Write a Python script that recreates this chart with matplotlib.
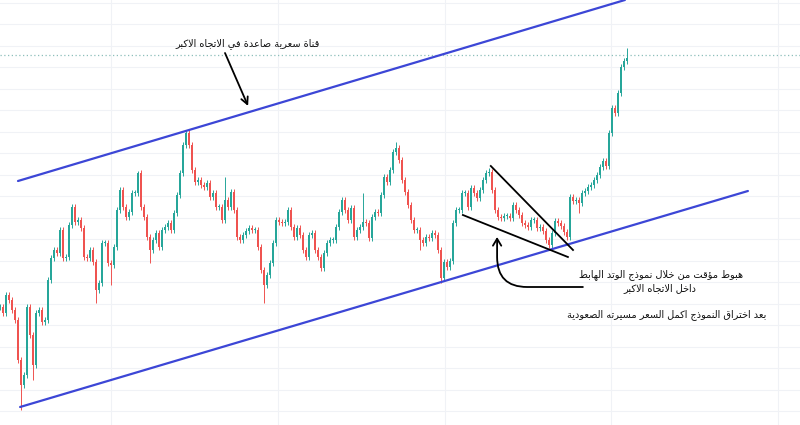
import unicodedata
import numpy as np
import matplotlib
matplotlib.use("Agg")
from matplotlib import pyplot as plt

# closing prices, one candle every 3 px of the reference
closes = [118, 112, 130, 125, 115, 105, 65, 40, 50, 118,
          90, 60, 112, 115, 103, 105, 145, 167, 175, 172,
          195, 167, 168, 200, 218, 203, 205, 197, 168, 167,
          175, 163, 135, 142, 182, 182, 162, 160, 178, 215,
          235, 218, 208, 213, 232, 232, 252, 218, 208, 188,
          175, 185, 192, 178, 195, 198, 202, 195, 212, 230,
          252, 280, 292, 280, 255, 243, 245, 240, 238, 242,
          228, 232, 218, 218, 205, 225, 218, 233, 215, 188,
          185, 190, 194, 197, 195, 195, 178, 155, 140, 150,
          162, 182, 205, 203, 202, 203, 215, 198, 188, 197,
          190, 175, 168, 190, 192, 175, 168, 157, 172, 182,
          185, 185, 198, 213, 225, 215, 205, 217, 188, 195,
          198, 203, 202, 187, 208, 213, 212, 230, 248, 243,
          255, 273, 277, 265, 245, 233, 220, 205, 195, 195,
          185, 182, 188, 187, 192, 190, 175, 147, 163, 158,
          164, 202, 215, 215, 232, 232, 218, 237, 232, 227,
          235, 245, 252, 253, 235, 215, 208, 207, 209, 209,
          207, 220, 215, 210, 202, 200, 198, 205, 205, 197,
          198, 194, 185, 180, 192, 204, 202, 199, 193, 188,
          228, 224, 225, 222, 232, 234, 238, 240, 245, 250,
          258, 264, 259, 292, 317, 312, 332, 358, 364, 367]

# long wicks
spike_lows = {7: 15, 11: 45, 32: 122, 37: 140, 50: 162, 88: 122,
              140: 175, 147: 142, 183: 177, 189: 185, 193: 212}
spike_highs = {46: 254, 62: 295, 75: 248, 121: 232, 132: 283,
               163: 257, 209: 377}

last_price = 370

channel_upper = [(6.0, 244), (208.3, 425)]
channel_lower = [(6.7, 18), (249.3, 234)]
wedge_upper = [(163.6, 259), (191.0, 175)]
wedge_lower = [(154.3, 210), (189.3, 168)]

label_channel = "قناة سعرية صاعدة في الاتجاه الاكبر"
label_wedge = "هبوط مؤقت من خلال نموذج الوتد الهابط"
label_wedge2 = "داخل الاتجاه الاكبر"
label_break = "بعد اختراق النموذج اكمل السعر مسيرته الصعودية"


def shape_arabic(text):
    # matplotlib has no arabic shaping: pick presentation forms and reverse
    def forms(ch):
        out = {}
        try:
            name = unicodedata.name(ch)
        except ValueError:
            return out
        if not name.startswith("ARABIC LETTER"):
            return out
        for key, suffix in (("iso", " ISOLATED FORM"), ("fin", " FINAL FORM"),
                            ("ini", " INITIAL FORM"), ("med", " MEDIAL FORM")):
            try:
                out[key] = unicodedata.lookup(name + suffix)
            except KeyError:
                pass
        return out

    units = []
    i = 0
    while i < len(text):
        ch = text[i]
        if ch == "ل" and i + 1 < len(text) and text[i + 1] == "ا":
            units.append(("لا", {"iso": "\ufefb", "fin": "\ufefc"}))
            i += 2
            continue
        units.append((ch, forms(ch)))
        i += 1

    shaped = []
    for k, (ch, f) in enumerate(units):
        if not f:
            shaped.append(ch)
            continue
        prev_joins = k > 0 and "ini" in units[k - 1][1]
        next_joins = "ini" in f and k + 1 < len(units) and bool(units[k + 1][1])
        if prev_joins and next_joins:
            shaped.append(f["med"])
        elif prev_joins:
            shaped.append(f["fin"])
        elif next_joins:
            shaped.append(f["ini"])
        else:
            shaped.append(f["iso"])
    return "".join(reversed(shaped))


plt.rcParams['font.family'] = ['DejaVu Sans']

fig = plt.figure(figsize=(8, 4.25), dpi=100)
ax = fig.add_axes([0, 0, 1, 1])
ax.set_xlim(0, 800 / 3)
ax.set_ylim(0, 425)
for s in ax.spines.values():
    s.set_visible(False)
ax.set_xticks(np.arange(37, 266, 55.6))
ax.set_yticks(np.arange(13.8, 425, 21.5))
ax.tick_params(length=0, labelbottom=False, labelleft=False)
ax.grid(True, color='#f0f2f6', lw=0.8)
ax.set_axisbelow(True)

n = len(closes)
x = np.arange(n)
c = np.array(closes, dtype=float)
o = np.concatenate([[c[0]], c[:-1]])
hi = np.maximum(o, c) + 3
lo = np.minimum(o, c) - 3
for k, v in spike_lows.items():
    lo[k] = v
for k, v in spike_highs.items():
    hi[k] = v

up = c >= o
cols = np.where(up, '#26a69a', '#ef5350')
ax.vlines(x, lo, hi, colors=cols, lw=0.7, zorder=3)
body = np.maximum(np.abs(c - o), 1.0)
ax.bar(x, body, bottom=np.minimum(o, c), width=0.6, color=cols, lw=0, zorder=4)

ax.axhline(last_price, color='#8cbfba', ls=(0, (1, 2)), lw=0.9, zorder=2)

for pts in (channel_upper, channel_lower):
    xs, ys = zip(*pts)
    ax.plot(xs, ys, color='#3c46d6', lw=1.6, zorder=5, solid_capstyle='round')
for pts in (wedge_upper, wedge_lower):
    xs, ys = zip(*pts)
    ax.plot(xs, ys, color='black', lw=1.3, zorder=6)

fs = 7
ax.text(82.7, 381, shape_arabic(label_channel), ha='center', va='center',
        fontsize=fs, color='#111111', zorder=7)
ax.annotate("", xy=(82.7, 319), xytext=(75, 372),
            arrowprops=dict(arrowstyle='->,head_length=0.5,head_width=0.25',
                            lw=1.3, color='black', shrinkA=0, shrinkB=0),
            zorder=7)

ax.text(220.3, 150, shape_arabic(label_wedge), ha='center', va='center',
        fontsize=fs, color='#111111', zorder=7)
ax.text(220.0, 137, shape_arabic(label_wedge2), ha='center', va='center',
        fontsize=fs, color='#111111', zorder=7)
ax.annotate("", xy=(165.7, 188), xytext=(194.3, 138),
            arrowprops=dict(arrowstyle='->,head_length=0.5,head_width=0.3',
                            lw=1.3, color='black', shrinkA=0, shrinkB=0,
                            connectionstyle='angle,angleA=0,angleB=90,rad=30'),
            zorder=7)

ax.text(222.3, 110, shape_arabic(label_break), ha='center', va='center',
        fontsize=fs, color='#111111', zorder=7)

fig.savefig('out.png', dpi=100)
